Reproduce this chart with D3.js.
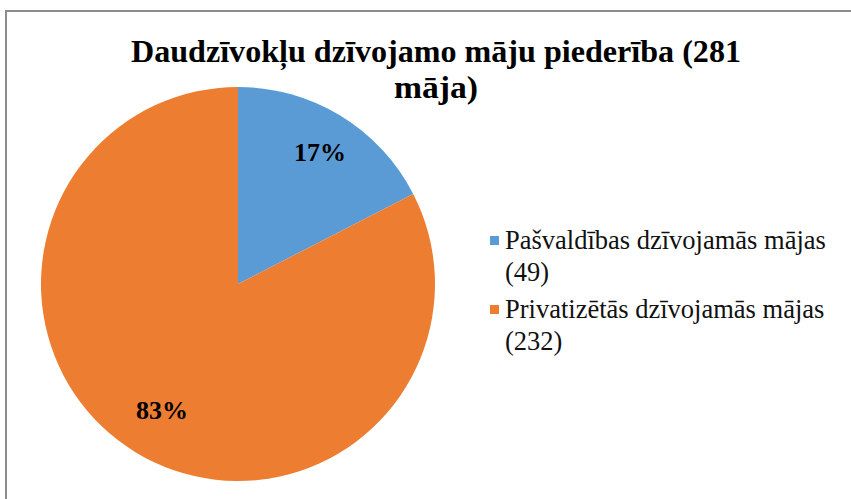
<!DOCTYPE html>
<html>
<head>
<meta charset="utf-8">
<script src="https://cdn.jsdelivr.net/npm/d3@7"></script>
<style>
  body { margin: 0; background: #fff; }
  svg { display: block; }
</style>
</head>
<body>
<div id="chart"></div>
<script>
// chart data
const titleLines = ["Daudzīvokļu dzīvojamo māju piederība (281", "māja)"];
const categories = ["Pašvaldības dzīvojamās mājas", "Privatizētās dzīvojamās mājas"];
const counts = [49, 232];
const legendSub = ["(49)", "(232)"];
const colors = ["#5B9BD5", "#ED7D31"];

const width = 851;
const height = 499;
const serif = '"Liberation Serif"';

const svg = d3
  .select("#chart")
  .append("svg")
  .attr("width", width)
  .attr("height", height);

// outer chart border (runs off the right / bottom edge)
svg
  .append("rect")
  .attr("x", 6)
  .attr("y", 11)
  .attr("width", 900)
  .attr("height", 600)
  .attr("fill", "none")
  .attr("stroke", "#8c8c8c")
  .attr("stroke-width", 2);

// title - squeezed a bit like the original
const title = svg
  .append("text")
  .attr("text-anchor", "middle")
  .style("font-family", serif)
  .style("font-weight", "bold")
  .style("font-size", "32px")
  .attr("fill", "#000");

title
  .selectAll("tspan")
  .data(titleLines)
  .enter()
  .append("tspan")
  .attr("x", 436)
  .attr("y", (d, i) => 62 + i * 36)
  .attr("textLength", (d, i) => (i === 0 ? 610 : 84))
  .attr("lengthAdjust", "spacingAndGlyphs")
  .text((d) => d);

// pie
const cx = 238;
const cy = 284;
const radius = 197;
const total = d3.sum(counts);

const pie = d3.pie().sort(null).value((d) => d)(counts);
const arc = d3.arc().innerRadius(0).outerRadius(radius);
const labelArc = d3.arc().innerRadius(radius * 0.77).outerRadius(radius * 0.77);

const g = svg.append("g").attr("transform", `translate(${cx},${cy})`);

g.selectAll("path")
  .data(pie)
  .enter()
  .append("path")
  .attr("d", arc)
  .attr("fill", (d, i) => colors[i]);

g.selectAll("text.pct")
  .data(pie)
  .enter()
  .append("text")
  .attr("class", "pct")
  .attr("transform", (d) => {
    const c = labelArc.centroid(d);
    return `translate(${c[0] + 3},${c[1] + 6})`;
  })
  .attr("text-anchor", "middle")
  .style("font-family", serif)
  .style("font-weight", "bold")
  .style("font-size", "26px")
  .text((d) => d3.format(".0%")(d.value / total));

// legend
const legend = svg
  .selectAll("g.legend")
  .data(categories)
  .enter()
  .append("g")
  .attr("class", "legend")
  .attr("transform", (d, i) => `translate(490,${236 + i * 69})`);

legend
  .append("rect")
  .attr("width", 9)
  .attr("height", 9)
  .attr("fill", (d, i) => colors[i]);

const lt = legend
  .append("text")
  .style("font-family", serif)
  .style("font-size", "26.5px")
  .attr("fill", "#111");

lt.append("tspan").attr("x", 15).attr("y", 13).text((d) => d);
lt.append("tspan").attr("x", 15).attr("y", 45).text((d, i) => legendSub[i]);
</script>
</body>
</html>
